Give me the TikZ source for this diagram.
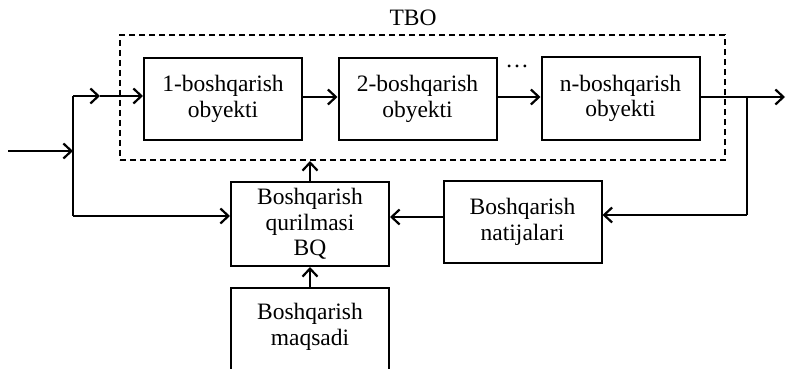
\documentclass[tikz,border=0pt]{standalone}
\usepackage{fontspec}
\setmainfont{Liberation Serif}
\usetikzlibrary{arrows.meta,positioning}
\begin{document}
\begin{tikzpicture}[x=1pt,y=-1pt,
  every node/.style={font=\fontsize{23.5}{25.5}\selectfont,align=center},
  blk/.style={draw,line width=2pt,inner sep=0pt,align=center,minimum width=158pt,minimum height=82pt},
  conn/.style={line width=2pt,-{Straight Barb[length=8pt,width=15pt,line width=2.2pt]}},
  plain/.style={line width=2pt}]
\clip (0,0) rectangle (788,369);
\useasboundingbox (0,0) rectangle (788,369);
\node[draw,dash pattern=on 6pt off 4pt,line width=2pt,minimum width=605pt,minimum height=125pt,inner sep=0pt] (tbo) at (422.5,97.5) {};
\node (tbol) at (413,18) {TBO};
\node[blk] (b1) at (223,99) {1-boshqarish\\obyekti};
\node[blk] (b2) at (417.5,99) {2-boshqarish\\obyekti};
\node[blk] (bn) at (620.5,98.5) {n-boshqarish\\obyekti};
\node (dots) at (517,66) {\dots};
\node[blk,minimum height=84pt] (bq) at (310,224) {Boshqarish\\qurilmasi\\BQ};
\node[blk] (nat) at (522.5,222) {Boshqarish\\natijalari};
\node[blk,minimum height=90pt] (maq) at (310,333) {};
\node (maqt) at (310,327) {Boshqarish\\maqsadi};
% input
\coordinate (in) at (8,151);
\coordinate (jin) at (73,151);
\coordinate (jt) at (73,96);
\coordinate (jm) at (100,96);
\coordinate (jb) at (73,216);
\draw[conn] (in) -- (jin);
\draw[plain] (jt) -- (jb);
\draw[conn] (jt) -- (jm);
\draw[conn] (jm) -- (b1.west |- jm);
\draw[conn] (jb) -- (bq.west |- jb);
% chain
\draw[conn] (b1.east |- 0,97) -- (b2.west |- 0,97);
\draw[conn] (b2.east |- 0,97) -- (bn.west |- 0,97);
% output
\coordinate (out) at (785,97);
\coordinate (jo) at (747,97);
\coordinate (jd) at (747,215);
\draw[conn] (bn.east |- out) -- (out);
\draw[plain] (jo) -- (jd);
\draw[conn] (jd) -- (nat.east |- jd);
\draw[conn] (nat.west |- 0,217) -- (bq.east |- 0,217);
\draw[conn] (bq.north) -- (bq.north |- tbo.south);
\draw[conn] (maq.north) -- (bq.south);
\end{tikzpicture}
\end{document}
